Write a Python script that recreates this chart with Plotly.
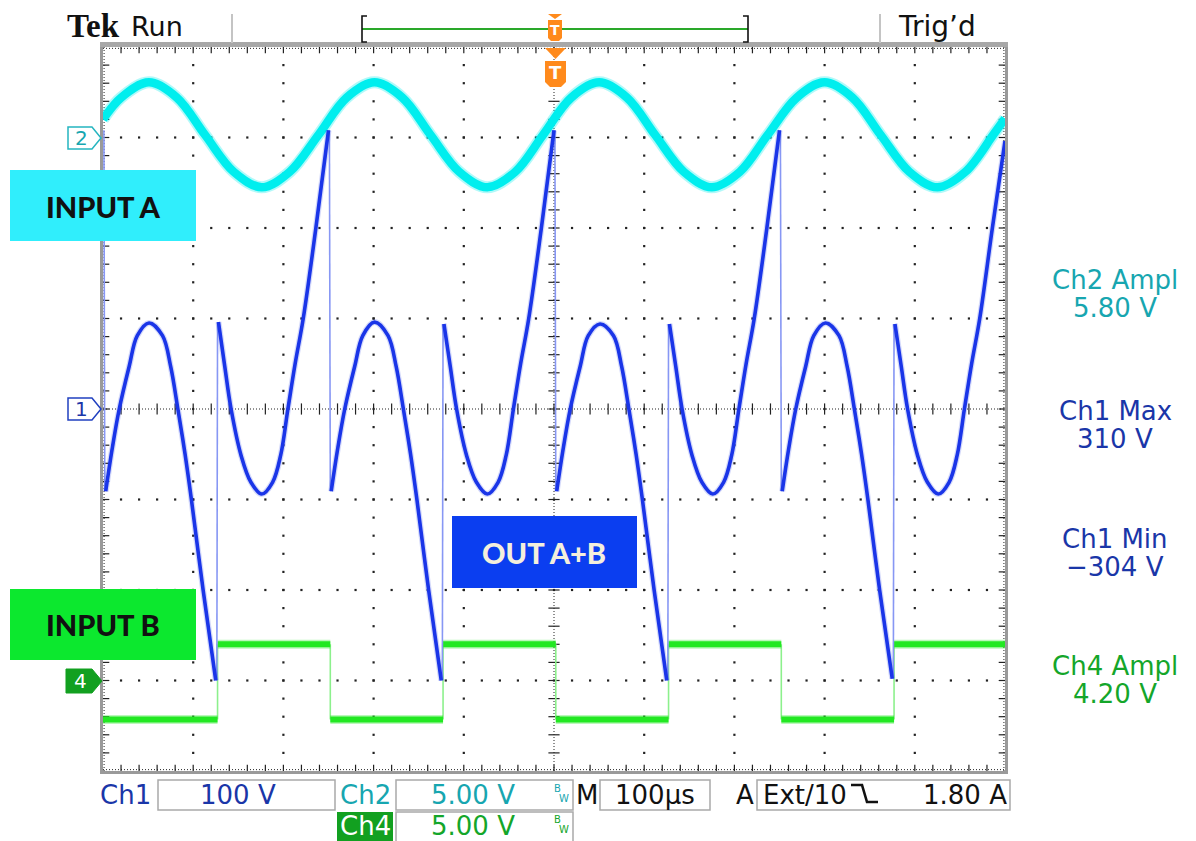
import plotly.graph_objects as go

# ------------------------------------------------------------------
# DATA (graticule divisions: x 0..10, y -4..4)
# ------------------------------------------------------------------
# Ch2 (INPUT A) sine, read at ~1/8 period steps
ch2_x = [0.00, 0.20, 0.51, 0.82, 1.13, 1.45, 1.76, 2.07, 2.39, 2.70, 3.01, 3.32,
         3.63, 3.95, 4.26, 4.57, 4.88, 5.19, 5.50, 5.81, 6.12, 6.44, 6.75, 7.06,
         7.37, 7.69, 8.00, 8.31, 8.62, 8.94, 9.25, 9.56, 9.87, 10.0]
ch2_y = [3.20, 3.44, 3.61, 3.44, 3.03, 2.62, 2.45, 2.62, 3.03, 3.44, 3.61, 3.44,
         3.03, 2.62, 2.45, 2.62, 3.03, 3.44, 3.61, 3.44, 3.03, 2.62, 2.45, 2.62,
         3.03, 3.44, 3.61, 3.44, 3.03, 2.62, 2.45, 2.62, 3.03, 3.21]

# Ch1 (OUT A+B) continuous segments (None = break between segments)
ch1_x = [0.03, 0.10, 0.18, 0.29, 0.38, 0.51, 0.66, 0.75, 0.83, 0.91, 0.98, 1.11, 1.25, None,
         1.28, 1.35, 1.42, 1.53, 1.64, 1.76, 1.88, 1.97, 2.05, 2.13, 2.22, 2.36, 2.50, None,
         2.53, 2.60, 2.68, 2.79, 2.88, 3.01, 3.16, 3.25, 3.33, 3.41, 3.48, 3.61, 3.75, None,
         3.78, 3.85, 3.92, 4.03, 4.14, 4.26, 4.38, 4.47, 4.55, 4.63, 4.72, 4.86, 5.00, None,
         5.03, 5.10, 5.18, 5.29, 5.38, 5.51, 5.66, 5.75, 5.83, 5.91, 5.98, 6.11, 6.25, None,
         6.28, 6.35, 6.42, 6.53, 6.64, 6.76, 6.88, 6.97, 7.05, 7.13, 7.22, 7.36, 7.50, None,
         7.53, 7.60, 7.68, 7.79, 7.88, 8.01, 8.16, 8.25, 8.33, 8.41, 8.48, 8.61, 8.75, None,
         8.78, 8.85, 8.92, 9.03, 9.14, 9.26, 9.38, 9.47, 9.55, 9.63, 9.72, 9.86, 10.0]
ch1_y = [-0.91, -0.45, 0.00, 0.47, 0.81, 0.95, 0.81, 0.47, 0.00, -0.50, -1.00, -2.00, -3.00, None,
         0.96, 0.47, 0.00, -0.51, -0.81, -0.94, -0.81, -0.51, 0.00, 0.50, 1.00, 2.00, 3.08, None,
         -0.91, -0.45, 0.00, 0.47, 0.81, 0.96, 0.81, 0.47, 0.00, -0.50, -1.00, -2.00, -3.00, None,
         0.94, 0.47, 0.00, -0.51, -0.81, -0.94, -0.81, -0.51, 0.00, 0.50, 1.00, 2.00, 3.08, None,
         -0.91, -0.45, 0.00, 0.47, 0.81, 0.94, 0.81, 0.47, 0.00, -0.50, -1.00, -2.00, -3.00, None,
         0.94, 0.47, 0.00, -0.51, -0.81, -0.94, -0.81, -0.51, 0.00, 0.50, 1.00, 2.00, 3.08, None,
         -0.91, -0.45, 0.00, 0.47, 0.81, 0.95, 0.81, 0.47, 0.00, -0.50, -1.00, -2.00, -2.98, None,
         0.94, 0.47, 0.00, -0.51, -0.81, -0.94, -0.81, -0.51, 0.00, 0.50, 1.00, 2.00, 2.96]

# Ch1 fast transitions (thin vertical edges)
ch1_jump_x = [0.010, 0.020, None, 1.262, 1.270, None, 2.510, 2.520, None, 3.762, 3.770, None,
              5.010, 5.020, None, 6.262, 6.270, None, 7.510, 7.520, None, 8.762, 8.770]
ch1_jump_y = [3.08, -0.91, None, -3.00, 0.96, None, 3.08, -0.91, None, -3.00, 0.94, None,
              3.08, -0.91, None, -3.00, 0.94, None, 3.08, -0.91, None, -2.98, 0.94]

# Ch4 (INPUT B) square wave: edge times and levels between them
ch4_edges = [0.0, 1.27, 2.52, 3.77, 5.02, 6.27, 7.52, 8.77, 10.0]
ch4_levels = [-3.43, -2.60, -3.43, -2.60, -3.43, -2.60, -3.43, -2.60]

# readouts
ch2_ampl = "5.80 V"
ch1_max = "310 V"
ch1_min = "\u2212304 V"
ch4_ampl = "4.20 V"
ch1_scale = "100 V"
ch2_scale = "5.00 V"
ch4_scale = "5.00 V"
time_scale = "100\u00b5s"
trig_level = "1.80 A"

# ------------------------------------------------------------------
# COLOURS / GEOMETRY  (page pixels; page body has an 8px margin)
# ------------------------------------------------------------------
W, H = 1196, 841
OFF = 8
L, R, T, B = 103, 1005, 47, 771
CYAN = "#00eeee"
BLUE = "#1a35e8"
GREEN = "#22e822"
TXT_CH2 = "#17a6b0"
TXT_CH1 = "#1a36a8"
TXT_CH4 = "#14a62a"
ORANGE = "#ff8a1c"
FONT = "DejaVu Sans"
DOT = "#222222"


def P(px, py):
    return (px - L) / (R - L), (B - py) / (B - T)


def path(points, close=True):
    s = ""
    for i, (px, py) in enumerate(points):
        x, y = P(px, py)
        s += ("M" if i == 0 else "L") + f"{x:.5f},{y:.5f} "
    if close:
        s += "Z"
    return s


fig = go.Figure()

# ------------------------------------------------------------------
# graticule
# ------------------------------------------------------------------
gx, gy = [], []
for k in [1, 2, 3, 4, 6, 7, 8, 9]:
    for j in range(-19, 20):
        gx.append(k); gy.append(j * 0.2)
for m in [-3, -2, -1, 1, 2, 3]:
    for j in range(1, 50):
        gx.append(j * 0.2); gy.append(m)
fig.add_trace(go.Scatter(x=gx, y=gy, mode="markers",
                         marker=dict(symbol="square", size=2.2, color=DOT,
                                     line=dict(width=0)),
                         hoverinfo="skip"))


def ticks(xs, ys, sym, size):
    fig.add_trace(go.Scatter(x=xs, y=ys, mode="markers",
                             marker=dict(symbol=sym, size=size, color=DOT,
                                         line=dict(width=1.2, color=DOT)),
                             hoverinfo="skip"))


tx = [j * 0.2 for j in range(1, 50)]
ty = [j * 0.2 for j in range(-19, 20)]
ticks(tx, [0] * len(tx), "line-ns-open", 8)
ticks([5] * len(ty), ty, "line-ew-open", 8)
ticks(tx + tx, [-4] * len(tx) + [4] * len(tx), "line-ns-open", 9)
ticks([0] * len(ty) + [10] * len(ty), ty + ty, "line-ew-open", 9)

shapes = []
dense = dict(color=DOT, width=1, dash="1px,2px")
shapes.append(dict(type="line", xref="x", yref="y", x0=0, x1=10, y0=0, y1=0, line=dense, layer="below"))
shapes.append(dict(type="line", xref="x", yref="y", x0=5, x1=5, y0=-4, y1=4, line=dense, layer="below"))
for (x0, y0, x1, y1) in [(0.012, -4, 0.012, 4), (9.988, -4, 9.988, 4),
                         (0, -3.985, 10, -3.985), (0, 3.985, 10, 3.985)]:
    shapes.append(dict(type="line", xref="x", yref="y", x0=x0, x1=x1, y0=y0, y1=y1,
                       line=dense, layer="below"))

# ------------------------------------------------------------------
# waveforms
# ------------------------------------------------------------------
fig.add_trace(go.Scatter(x=ch2_x, y=ch2_y, mode="lines",
                         line=dict(color=CYAN, width=12, shape="spline"),
                         opacity=0.3, hoverinfo="skip"))
fig.add_trace(go.Scatter(x=ch2_x, y=ch2_y, mode="lines",
                         line=dict(color=CYAN, width=8.5, shape="spline"),
                         hoverinfo="skip"))

g_flat_x, g_flat_y, g_edge_x, g_edge_y = [], [], [], []
for i, lev in enumerate(ch4_levels):
    g_flat_x += [ch4_edges[i], ch4_edges[i + 1], None]
    g_flat_y += [lev, lev, None]
    if i > 0:
        g_edge_x += [ch4_edges[i], ch4_edges[i], None]
        g_edge_y += [ch4_levels[i - 1], lev, None]
fig.add_trace(go.Scatter(x=g_edge_x, y=g_edge_y, mode="lines",
                         line=dict(color="#8cf08c", width=1.6), hoverinfo="skip"))
fig.add_trace(go.Scatter(x=g_flat_x, y=g_flat_y, mode="lines",
                         line=dict(color=GREEN, width=9), opacity=0.3, hoverinfo="skip"))
fig.add_trace(go.Scatter(x=g_flat_x, y=g_flat_y, mode="lines",
                         line=dict(color=GREEN, width=6), hoverinfo="skip"))

fig.add_trace(go.Scatter(x=ch1_jump_x, y=ch1_jump_y, mode="lines",
                         line=dict(color="#8797f4", width=1.6), hoverinfo="skip"))
fig.add_trace(go.Scatter(x=ch1_x, y=ch1_y, mode="lines",
                         line=dict(color=BLUE, width=6, shape="spline"),
                         opacity=0.18, hoverinfo="skip"))
fig.add_trace(go.Scatter(x=ch1_x, y=ch1_y, mode="lines",
                         line=dict(color=BLUE, width=3.6, shape="spline"),
                         hoverinfo="skip"))

# ------------------------------------------------------------------
# frame and decorations (paper coords)
# ------------------------------------------------------------------
px1 = 1.0 / (R - L)
py1 = 1.0 / (B - T)
shapes.append(dict(type="rect", xref="paper", yref="paper",
                   x0=-1.5 * px1, x1=1 + 1.5 * px1, y0=-1.5 * py1, y1=1 + 1.5 * py1,
                   line=dict(color="#9a9a9a", width=3)))
x0, y0 = P(100, 42)
x1, y1 = P(1008, 47)
shapes.append(dict(type="rect", xref="paper", yref="paper", x0=x0, x1=x1, y0=y0, y1=y1,
                   line=dict(width=0), fillcolor="#a8a8a8"))

for sx in [232, 880]:
    a, b1 = P(sx, 14)
    _, b2 = P(sx, 43)
    shapes.append(dict(type="line", xref="paper", yref="paper", x0=a, x1=a, y0=b1, y1=b2,
                       line=dict(color="#c4c4c4", width=2)))

a1, yb = P(362, 29)
a2, _ = P(748, 29)
shapes.append(dict(type="line", xref="paper", yref="paper", x0=a1, x1=a2, y0=yb, y1=yb,
                   line=dict(color="#2aa82a", width=2)))
shapes.append(dict(type="path", xref="paper", yref="paper",
                   path=path([(367, 16), (362, 16), (362, 42), (367, 42)], close=False),
                   line=dict(color="#111", width=1.6)))
shapes.append(dict(type="path", xref="paper", yref="paper",
                   path=path([(743, 16), (748, 16), (748, 42), (743, 42)], close=False),
                   line=dict(color="#111", width=1.6)))

shapes.append(dict(type="path", xref="paper", yref="paper",
                   path=path([(548, 14), (562, 14), (555, 19)]),
                   fillcolor=ORANGE, line=dict(width=0)))
shapes.append(dict(type="path", xref="paper", yref="paper",
                   path=path([(548, 20), (562, 20), (562, 38), (559, 41), (551, 41), (548, 38)]),
                   fillcolor=ORANGE, line=dict(width=0)))
shapes.append(dict(type="path", xref="paper", yref="paper",
                   path=path([(545, 48), (566, 48), (555.5, 59)]),
                   fillcolor=ORANGE, line=dict(width=0)))
shapes.append(dict(type="path", xref="paper", yref="paper",
                   path=path([(545, 61), (566, 61), (566, 82), (561, 87), (550, 87), (545, 82)]),
                   fillcolor=ORANGE, line=dict(width=0)))

shapes.append(dict(type="path", xref="paper", yref="paper",
                   path=path([(68, 127), (92, 127), (101, 138), (92, 149), (68, 149)]),
                   fillcolor="white", line=dict(color="#25b5c0", width=1.5)))
shapes.append(dict(type="path", xref="paper", yref="paper",
                   path=path([(68, 398), (92, 398), (101, 409), (92, 420), (68, 420)]),
                   fillcolor="white", line=dict(color="#2040c0", width=1.5)))
shapes.append(dict(type="path", xref="paper", yref="paper",
                   path=path([(66, 669), (92, 669), (102, 681), (92, 693), (66, 693)]),
                   fillcolor="#12a020", line=dict(color="#12a020", width=1)))


def rect(px0, py0, px1_, py1_, fill, line_color=None, lw=0):
    xa, ya = P(px0, py1_)
    xb, yb_ = P(px1_, py0)
    shapes.append(dict(type="rect", xref="paper", yref="paper", x0=xa, x1=xb, y0=ya, y1=yb_,
                       fillcolor=fill,
                       line=dict(color=line_color or fill, width=lw)))


rect(10, 170, 196, 241, "#30eefc")
rect(10, 589, 196, 660, "#0ce82e")
rect(452, 516, 637, 588, "#0b3ef0")

rect(158, 780, 335, 810, "white", "#a9a9a9", 1.5)
rect(396, 780, 573, 810, "white", "#a9a9a9", 1.5)
rect(600, 780, 710, 810, "white", "#a9a9a9", 1.5)
rect(757, 780, 1010, 810, "white", "#a9a9a9", 1.5)
rect(396, 812, 573, 845, "white", "#a9a9a9", 1.5)
rect(337, 812, 393, 842, "#12a020")

shapes.append(dict(type="path", xref="paper", yref="paper",
                   path=path([(851, 785), (862, 785), (867, 802), (878, 802)], close=False),
                   line=dict(color="#111", width=2.6)))

# ------------------------------------------------------------------
# texts
# ------------------------------------------------------------------
anns = []


def text(s, px, py, size, color, family=FONT, xanchor="center", weight=None):
    x, y = P(px, py)
    f = dict(family=family, size=size, color=color)
    if weight:
        f["weight"] = weight
    anns.append(dict(text=s, x=x, y=y, xref="paper", yref="paper", showarrow=False,
                     xanchor=xanchor, yanchor="middle", font=f))


text("Tek", 93, 26, 33, "#111", "Liberation Serif", weight="bold")
text("Run", 157, 27, 27, "#111")
text("Trig\u2019d", 937, 27, 28, "#111")
text("T", 555, 30, 14, "white", weight="bold")
text("T", 555.5, 73, 18, "white", weight="bold")

text("2", 81, 138, 20, TXT_CH2)
text("1", 81, 409, 20, TXT_CH1)
text("4", 80, 681, 20, "white")

text("INPUT A", 103, 206, 29, "#111", "Lato", weight=900)
text("INPUT B", 103, 624, 29, "#111", "Lato", weight=900)
text("OUT A+B", 544, 552, 29, "#f4efdc", "Lato", weight=900)

text("Ch2 Ampl", 1115, 280, 26, TXT_CH2)
text(ch2_ampl, 1115, 308, 26, TXT_CH2)
text("Ch1 Max", 1115, 411, 26, TXT_CH1)
text(ch1_max, 1115, 439, 26, TXT_CH1)
text("Ch1 Min", 1115, 539, 26, TXT_CH1)
text(ch1_min, 1115, 567, 26, TXT_CH1)
text("Ch4 Ampl", 1115, 666, 26, TXT_CH4)
text(ch4_ampl, 1115, 694, 26, TXT_CH4)

text("Ch1", 125, 795, 26, TXT_CH1)
text(ch1_scale, 238, 795, 26, TXT_CH1)
text("Ch2", 365, 795, 26, TXT_CH2)
text(ch2_scale, 473, 795, 26, TXT_CH2)
text("B", 557, 788, 10, TXT_CH2)
text("W", 564, 798, 10, TXT_CH2)
text("M", 587, 795, 26, "#111")
text(time_scale, 655, 795, 26, "#111")
text("A", 745, 795, 26, "#111")
text("Ext/10", 761, 795, 26, "#111", xanchor="left")
text(trig_level, 1009, 795, 26, "#111", xanchor="right")
text("Ch4", 365, 826, 26, "white")
text(ch4_scale, 473, 826, 26, TXT_CH4)
text("B", 557, 819, 10, TXT_CH4)
text("W", 564, 829, 10, TXT_CH4)

fig.update_layout(
    width=W - OFF, height=H - OFF,
    margin=dict(l=L - OFF, r=W - R, t=T - OFF, b=H - B, autoexpand=False),
    paper_bgcolor="white", plot_bgcolor="white",
    showlegend=False,
    xaxis=dict(range=[0, 10], visible=False, fixedrange=True),
    yaxis=dict(range=[-4, 4], visible=False, fixedrange=True),
    shapes=shapes, annotations=anns,
    hovermode=False,
)

fig.write_html("out.html")
